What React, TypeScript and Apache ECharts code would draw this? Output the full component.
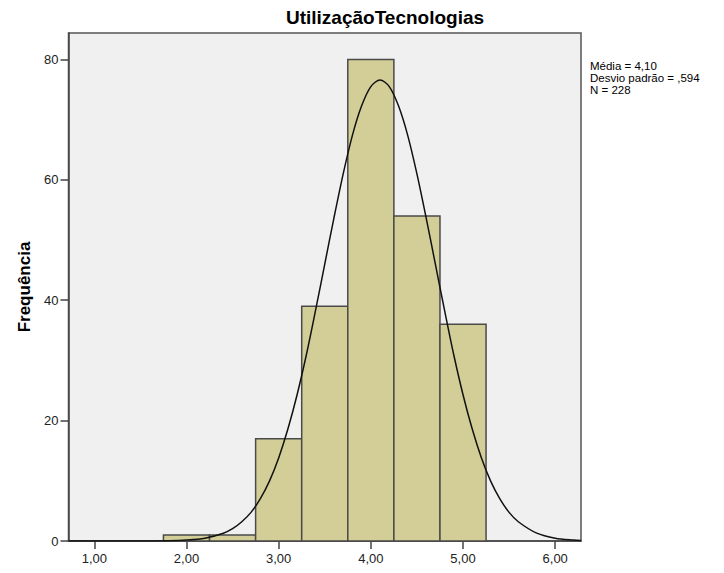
import React, { useEffect, useRef } from "react";
import * as echarts from "echarts";

const binStarts = [1.75, 2.25, 2.75, 3.25, 3.75, 4.25, 4.75];
const binWidth = 0.5;
const counts = [1, 1, 17, 39, 80, 54, 36];
const xTicks = [1, 2, 3, 4, 5, 6];
const yTicks = [0, 20, 40, 60, 80];
const curveX = [0.72, 1.0, 1.5, 1.8, 2.0, 2.2, 2.4, 2.5, 2.6, 2.7, 2.8, 2.9, 3.0, 3.1, 3.2, 3.3, 3.4, 3.5, 3.6, 3.7, 3.8, 3.9, 4.0, 4.1, 4.2, 4.3, 4.4, 4.5, 4.6, 4.7, 4.8, 4.9, 5.0, 5.1, 5.2, 5.3, 5.4, 5.5, 5.6, 5.8, 6.0, 6.2, 6.28];
const curveY = [0, 0, 0.01, 0.04, 0.15, 0.46, 1.3, 2.05, 3.2, 4.76, 7.0, 9.95, 13.8, 18.6, 24.3, 30.9, 38.3, 46.0, 53.7, 61.0, 67.4, 72.3, 75.5, 76.6, 75.5, 72.3, 67.4, 61.0, 53.7, 46.0, 38.3, 30.9, 24.3, 18.6, 13.8, 9.95, 7.0, 4.76, 3.2, 1.3, 0.46, 0.15, 0.09];
const titleText = "UtilizaçãoTecnologias";
const yName = "Frequência";
const statsLines = ["Média = 4,10", "Desvio padrão = ,594", "N = 228"];

export default function App() {
  const ref = useRef<HTMLDivElement>(null);
  useEffect(() => {
    if (!ref.current) return;
    const chart = echarts.init(ref.current, undefined, { renderer: "svg" });
    const font = "Arial, 'Liberation Sans', sans-serif";
    const barData = binStarts.map((s, i) => [s, s + binWidth, counts[i]]);
    chart.setOption({
      animation: false,
      backgroundColor: "#ffffff",
      textStyle: { fontFamily: font },
      grid: {
        left: 68.5,
        right: 143,
        top: 33,
        bottom: 32,
        show: true,
        backgroundColor: "#F0F0F0",
        borderColor: "#555555",
        borderWidth: 1.5,
      },
      xAxis: {
        type: "value",
        min: 0.72,
        max: 6.28,
        splitLine: { show: false },
        axisLine: { show: true, onZero: false, lineStyle: { color: "#444444", width: 1.5 } },
        axisTick: { show: true, customValues: xTicks, length: 8, lineStyle: { color: "#444444", width: 1.5 } },
        axisLabel: {
          customValues: xTicks,
          color: "#222222",
          fontSize: 13,
          fontFamily: font,
          margin: 11,
          formatter: (v: number) => v.toFixed(2).replace(".", ","),
        },
      },
      yAxis: {
        type: "value",
        min: 0,
        max: 84.4,
        name: yName,
        nameLocation: "middle",
        nameRotate: 90,
        nameGap: 36,
        nameTextStyle: { fontSize: 17, fontWeight: "bold", color: "#000000", fontFamily: font },
        splitLine: { show: false },
        axisLine: { show: true, lineStyle: { color: "#444444", width: 1.5 } },
        axisTick: { show: true, customValues: yTicks, length: 8, lineStyle: { color: "#444444", width: 1.5 } },
        axisLabel: { customValues: yTicks, color: "#222222", fontSize: 13, fontFamily: font, margin: 10 },
      },
      series: [
        {
          type: "custom",
          data: barData,
          encode: { x: [0, 1], y: 2 },
          renderItem: (params: any, api: any) => {
            const p0 = api.coord([api.value(0), api.value(2)]);
            const p1 = api.coord([api.value(1), 0]);
            return {
              type: "rect",
              shape: { x: p0[0], y: p0[1], width: p1[0] - p0[0], height: p1[1] - p0[1] },
              style: { fill: "#D3CE97", stroke: "#4a4a4a", lineWidth: 1.5 },
            };
          },
          z: 2,
        },
        {
          type: "line",
          data: curveX.map((x, i) => [x, curveY[i]]),
          smooth: 0.3,
          showSymbol: false,
          lineStyle: { color: "#111111", width: 1.5 },
          z: 3,
        },
      ],
      graphic: [
        {
          type: "text",
          x: 385,
          y: 17,
          style: {
            text: titleText,
            font: `bold 19px ${font}`,
            fill: "#000000",
            textAlign: "center",
            textVerticalAlign: "middle",
          },
        },
        {
          type: "text",
          x: 590,
          y: 60,
          style: {
            text: statsLines.join("\n"),
            font: `11.5px ${font}`,
            lineHeight: 12,
            fill: "#000000",
            textAlign: "left",
            textVerticalAlign: "top",
          },
        },
      ],
    });
    return () => chart.dispose();
  }, []);
  return <div ref={ref} style={{ width: 724, height: 573, position: "absolute", left: 0, top: 0 }} />;
}
